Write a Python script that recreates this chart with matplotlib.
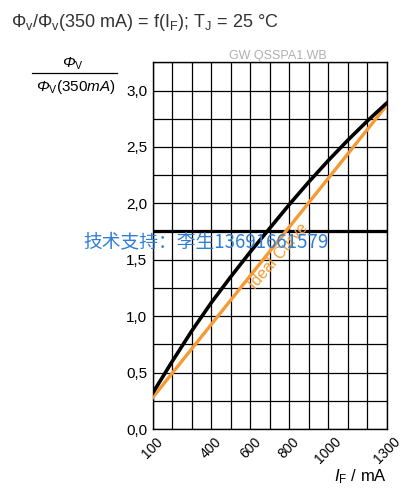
import matplotlib
matplotlib.use("Agg")
import matplotlib.pyplot as plt
from matplotlib.lines import Line2D

plt.rcParams['font.family'] = ['Liberation Sans', 'DejaVu Sans']
plt.rcParams['mathtext.fontset'] = 'custom'
plt.rcParams['mathtext.rm'] = 'Liberation Sans'
plt.rcParams['mathtext.it'] = 'Liberation Sans:italic'
plt.rcParams['mathtext.bf'] = 'Liberation Sans:bold'

# gemessene Kurve
current = [100, 200, 300, 400, 500, 600, 700, 800, 900, 1000, 1100, 1200, 1300]
flux_rel = [0.32, 0.60, 0.87, 1.12, 1.35, 1.57, 1.78, 1.99, 2.19, 2.38, 2.56, 2.73, 2.89]
# ideale Kurve
ideal_current = [100, 1300]
ideal_rel = [0.28, 2.87]

x_ticks = [100, 400, 600, 800, 1000, 1300]
y_ticks = [0.0, 0.5, 1.0, 1.5, 2.0, 2.5, 3.0]
y_labels = ["0,0", "0,5", "1,0", "1,5", "2,0", "2,5", "3,0"]
marker_level = 1.76

fig = plt.figure(figsize=(4.15, 4.91), dpi=100)
ax = fig.add_axes([0.368, 0.126, 0.564, 0.747])

# Gitter
for gx in range(100, 1301, 100):
    ax.axvline(gx, color="black", lw=0.9, zorder=1)
for i in range(14):
    ax.axhline(i * 0.25, color="black", lw=0.9, zorder=1)
ax.axhline(marker_level, color="black", lw=1.6, zorder=2)

ax.plot(ideal_current, ideal_rel, color="#f59a35", lw=2.4, zorder=3)
ax.plot(current, flux_rel, color="black", lw=2.6, zorder=4)
ax.text(746, 1.535, "Ideal Curve", color="#f59a35", fontsize=11.5, rotation=49,
        rotation_mode="anchor", ha="center", va="center", zorder=5)

ax.set_xlim(100, 1300)
ax.set_ylim(0, 3.25)
ax.set_xticks(x_ticks)
ax.set_xticklabels([str(v) for v in x_ticks], rotation=45, fontsize=10)
ax.set_yticks(y_ticks)
ax.set_yticklabels(y_labels, fontsize=11)
ax.tick_params(length=0, pad=4)
for s in ax.spines.values():
    s.set_linewidth(1.0)

fig.text(0.027, 0.955, r"$\Phi_\mathrm{v}/\Phi_\mathrm{v}$(350 mA) = f(I$_\mathrm{F}$); T$_\mathrm{J}$ = 25 °C",
         fontsize=13, color="#333333", va="center")
fig.text(0.669, 0.886, "GW QSSPA1.WB", fontsize=9, color="#b0b0b0", ha="center", va="center")

# y-Beschriftung als Bruch
fig.text(0.176, 0.87, r"Φ$_\mathrm{V}$", fontsize=11, style="italic", ha="center", va="center")
fig.add_artist(Line2D([0.077, 0.282], [0.851, 0.851], color="black", lw=0.9))
fig.text(0.182, 0.822, r"Φ$_\mathrm{V}\mathrm{(350}\mathit{mA}\mathrm{)}$", fontsize=11,
         style="italic", ha="center", va="center")

fig.text(0.933, 0.0285, r"$\mathit{I}_\mathrm{F}$ / mA", fontsize=12, ha="right", va="center")

# Wasserzeichen
fig.text(0.2, 0.507, "技术支持：李生13691661579", fontsize=13.5, color="#2f7fd6",
         family=['Noto Sans CJK SC', 'DejaVu Sans'], va="center", zorder=10)

fig.savefig("out.png", dpi=100)
